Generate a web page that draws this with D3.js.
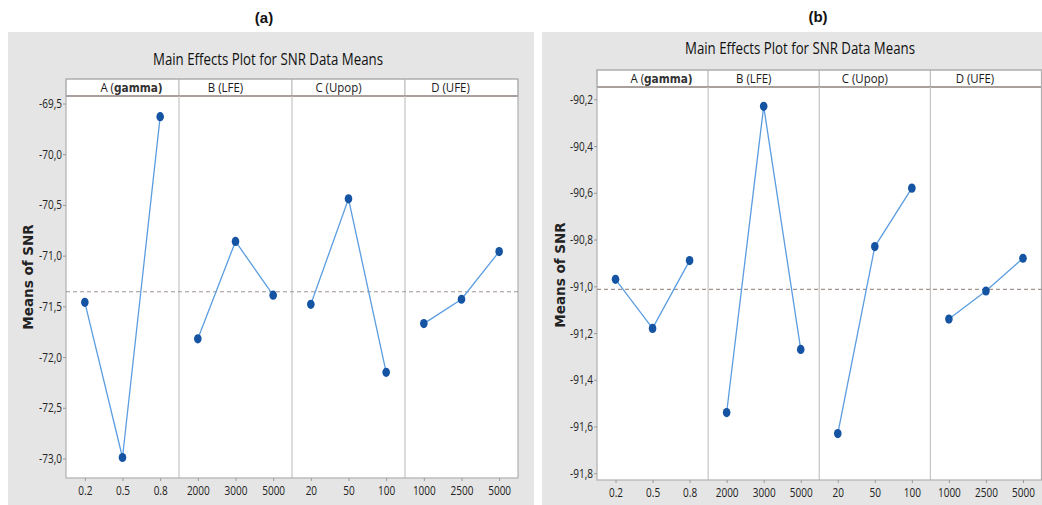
<!DOCTYPE html>
<html>
<head>
<meta charset="utf-8">
<script src="https://cdn.jsdelivr.net/npm/d3@7"></script>
<style>
  html, body { margin: 0; padding: 0; background: #fff; }
  svg { display: block; }
  .cond { font-family: "Open Sans", "Liberation Sans", sans-serif; }
</style>
</head>
<body>
<svg id="chart" width="1042" height="505"></svg>
<script>
// Factors and their levels (shared by both plots)
const factorNames = ["A (gamma)", "B (LFE)", "C (Upop)", "D (UFE)"];
const factorLevels = [
  ["0.2", "0.5", "0.8"],
  ["2000", "3000", "5000"],
  ["20", "50", "100"],
  ["1000", "2500", "5000"]
];

// Mean SNR for each factor level, plot (a)
const snrMeansA = [
  [-71.46, -72.99, -69.63],
  [-71.82, -70.86, -71.39],
  [-71.48, -70.44, -72.15],
  [-71.67, -71.43, -70.96]
];
// Mean SNR for each factor level, plot (b)
const snrMeansB = [
  [-90.97, -91.18, -90.89],
  [-91.54, -90.23, -91.27],
  [-91.63, -90.83, -90.58],
  [-91.14, -91.02, -90.88]
];

const yTicksA = [-69.5, -70.0, -70.5, -71.0, -71.5, -72.0, -72.5, -73.0];
const yTicksB = [-90.2, -90.4, -90.6, -90.8, -91.0, -91.2, -91.4, -91.6, -91.8];

const panelTags = ["(a)", "(b)"];
const chartTitle = "Main Effects Plot for SNR Data Means";
const yTitle = "Means of SNR";

// Decimal comma, plain hyphen minus
const locale = d3.formatLocale({ decimal: ",", thousands: ".", grouping: [3], currency: ["", ""], minus: "-" });
const fmt = locale.format(".1f");

const svg = d3.select("#chart");
svg.append("rect").attr("width", 1042).attr("height", 505).attr("fill", "#fff");

const layouts = [
  { bg: [8, 32, 526, 473], tag: [264, 23], title: [268, 65],
    left: 66, right: 518, stripTop: 79, stripBottom: 96, bottom: 478,
    yPix: [103.5, 458.5], yTitle: [28, 277], values: snrMeansA, ticks: yTicksA },
  { bg: [542, 32, 500, 473], tag: [818, 22], title: [800, 54],
    left: 597, right: 1041.5, stripTop: 70, stripBottom: 87, bottom: 480,
    yPix: [99.3, 473.3], yTitle: [560, 275], values: snrMeansB, ticks: yTicksB }
];

const headerShift = [9, -10, -10, -11];
const narrow = "scale(0.8,1)";

layouts.forEach((L, k) => {
  const g = svg.append("g");

  // grey panel background
  g.append("rect")
    .attr("x", L.bg[0]).attr("y", L.bg[1]).attr("width", L.bg[2]).attr("height", L.bg[3])
    .attr("fill", "#e5e5e5");

  // panel tag above
  g.append("text")
    .attr("x", L.tag[0]).attr("y", L.tag[1])
    .attr("text-anchor", "middle")
    .attr("font-family", "'Liberation Sans', Arial, sans-serif")
    .attr("font-weight", "bold").attr("font-size", 15).attr("fill", "#111")
    .text(panelTags[k]);

  // chart title
  g.append("text").attr("class", "cond")
    .attr("x", L.title[0] - 115).attr("y", L.title[1])
    .attr("font-size", 16).attr("fill", "#111")
    .attr("textLength", 230).attr("lengthAdjust", "spacingAndGlyphs")
    .text(chartTitle);

  const y = d3.scaleLinear()
    .domain([L.ticks[0], L.ticks[L.ticks.length - 1]])
    .range(L.yPix);

  const panelW = (L.right - L.left) / factorNames.length;

  // plot area white
  g.append("rect")
    .attr("x", L.left).attr("y", L.stripTop)
    .attr("width", L.right - L.left).attr("height", L.bottom - L.stripTop)
    .attr("fill", "#fff");

  // header strip cells
  factorNames.forEach((name, i) => {
    const x0 = L.left + i * panelW;
    g.append("rect")
      .attr("x", x0).attr("y", L.stripTop)
      .attr("width", panelW).attr("height", L.stripBottom - L.stripTop)
      .attr("fill", "#fff").attr("stroke", "#b9b9b9").attr("stroke-width", 1);
    const t = g.append("g")
      .attr("transform", `translate(${x0 + panelW / 2 + headerShift[i]},${L.stripBottom - 4})`)
      .append("text").attr("class", "cond")
      .attr("transform", "scale(0.88,1)")
      .attr("text-anchor", "middle").attr("font-size", 13).attr("fill", "#1a1a1a");
    const m = name.match(/^(\S+ \()(gamma\))$/);
    if (m) {
      t.append("tspan").text(m[1]);
      t.append("tspan")
        .attr("font-family", "'DejaVu Sans', Verdana, sans-serif")
        .attr("font-weight", "bold").attr("font-size", 12).attr("fill", "#333")
        .text(m[2]);
    } else {
      t.text(name);
    }
  });
  // darker line under the header strip
  g.append("line")
    .attr("x1", L.left).attr("x2", L.right)
    .attr("y1", L.stripBottom).attr("y2", L.stripBottom)
    .attr("stroke", "#9a8c86").attr("stroke-width", 1.4);

  // panel dividers
  for (let i = 1; i < factorNames.length; i++) {
    const xd = L.left + i * panelW;
    g.append("line")
      .attr("x1", xd).attr("x2", xd).attr("y1", L.stripBottom).attr("y2", L.bottom)
      .attr("stroke", "#c4c4c4").attr("stroke-width", 1.2);
  }

  // frame
  g.append("rect")
    .attr("x", L.left).attr("y", L.stripTop)
    .attr("width", L.right - L.left).attr("height", L.bottom - L.stripTop)
    .attr("fill", "none").attr("stroke", "#b0b0b0").attr("stroke-width", 1.2);

  // y axis
  const yAxis = g.append("g")
    .attr("transform", `translate(${L.left},0)`)
    .call(d3.axisLeft(y).tickValues(L.ticks).tickSize(3).tickPadding(2).tickFormat(fmt));
  yAxis.select(".domain").remove();
  yAxis.selectAll(".tick line").attr("stroke", "#999");
  yAxis.selectAll(".tick text")
    .attr("class", "cond").attr("font-size", 12.5).attr("fill", "#222")
    .attr("transform", narrow);

  // grand mean reference line
  const grand = d3.mean(L.values.flat());
  g.append("line")
    .attr("x1", L.left).attr("x2", L.right)
    .attr("y1", y(grand)).attr("y2", y(grand))
    .attr("stroke", "#a0958f").attr("stroke-width", 1.1)
    .attr("stroke-dasharray", "4,3");

  // factor panels
  factorNames.forEach((name, i) => {
    const x0 = L.left + i * panelW;
    const x = d3.scalePoint().domain(factorLevels[i]).range([x0, x0 + panelW]).padding(0.5);

    const xAxis = g.append("g")
      .attr("transform", `translate(0,${L.bottom})`)
      .call(d3.axisBottom(x).tickSize(3).tickPadding(5));
    xAxis.select(".domain").remove();
    xAxis.selectAll(".tick line").attr("stroke", "#999");
    xAxis.selectAll(".tick text")
      .attr("class", "cond").attr("font-size", 12.5).attr("fill", "#222")
      .attr("transform", narrow);

    const pts = factorLevels[i].map((lv, j) => ({ lv, v: L.values[i][j] }));
    g.append("path")
      .datum(pts)
      .attr("fill", "none").attr("stroke", "#5b9de0").attr("stroke-width", 1.3)
      .attr("d", d3.line().x(d => x(d.lv)).y(d => y(d.v)));
    g.selectAll(null).data(pts).enter().append("ellipse")
      .attr("cx", d => x(d.lv)).attr("cy", d => y(d.v))
      .attr("rx", 3.8).attr("ry", 4.6)
      .attr("fill", "#1553a3");
  });

  // y axis title
  g.append("text")
    .attr("transform", `translate(${L.yTitle[0]},${L.yTitle[1]}) rotate(-90)`)
    .attr("text-anchor", "middle").attr("dy", "0.35em")
    .attr("font-family", "'DejaVu Sans', Verdana, sans-serif")
    .attr("font-weight", "bold").attr("font-size", 13.5).attr("fill", "#222")
    .text(yTitle);
});
</script>
</body>
</html>
